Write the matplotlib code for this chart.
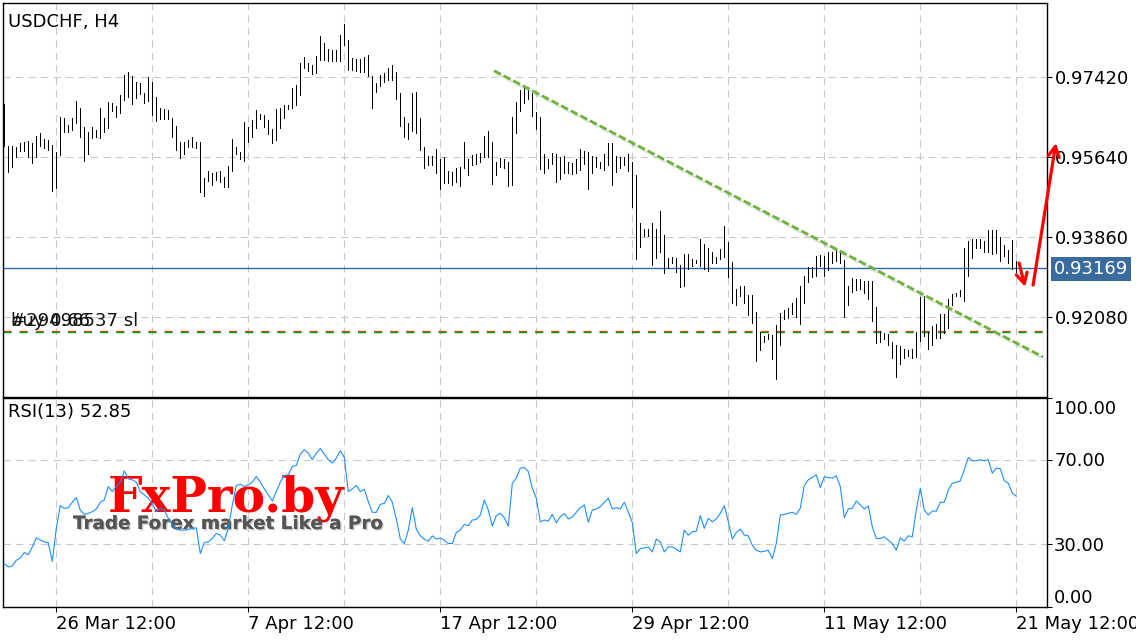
import matplotlib
matplotlib.use('Agg')
import matplotlib.pyplot as plt
import matplotlib.patheffects as pe
import numpy as np

plt.rcParams['font.family'] = ['DejaVu Sans']

# ---------------- data (H4 bars) ----------------
highs = [
 .9682,.9588,.9588,.9586,.9595,.9597,.9600,.9595,.9611,.9617,
 .9604,.9602,.9591,.9575,.9653,.9651,.9635,.9651,.9689,.9673,
 .9631,.9620,.9631,.9624,.9673,.9651,.9686,.9684,.9677,.9702,
 .9746,.9753,.9744,.9731,.9729,.9706,.9742,.9731,.9698,.9673,
 .9671,.9669,.9651,.9633,.9597,.9597,.9602,.9609,.9597,.9597,
 .9517,.9533,.9528,.9531,.9533,.9520,.9544,.9604,.9586,.9575,
 .9642,.9631,.9646,.9669,.9660,.9657,.9646,.9626,.9671,.9673,
 .9680,.9680,.9718,.9724,.9773,.9787,.9773,.9769,.9789,.9833,
 .9818,.9804,.9802,.9802,.9835,.9860,.9824,.9784,.9782,.9782,
 .9787,.9791,.9744,.9729,.9746,.9751,.9762,.9769,.9753,.9706,
 .9653,.9640,.9706,.9709,.9651,.9586,.9566,.9566,.9582,.9560,
 .9564,.9533,.9531,.9540,.9542,.9597,.9560,.9568,.9571,.9573,
 .9611,.9622,.9597,.9553,.9562,.9560,.9553,.9653,.9686,.9713,
 .9718,.9720,.9706,.9664,.9653,.9571,.9560,.9573,.9571,.9564,
 .9566,.9553,.9551,.9560,.9582,.9577,.9575,.9566,.9564,.9553,
 .9571,.9595,.9595,.9566,.9564,.9564,.9571,.9553,.9524,.9417,
 .9404,.9404,.9417,.9404,.9444,.9390,.9339,.9342,.9339,.9324,
 .9348,.9348,.9337,.9335,.9382,.9370,.9362,.9353,.9342,.9359,
 .9410,.9375,.9330,.9270,.9277,.9277,.9257,.9257,.9219,.9175,
 .9166,.9170,.9168,.9190,.9217,.9224,.9228,.9239,.9250,.9277,
 .9299,.9319,.9319,.9344,.9346,.9344,.9353,.9353,.9359,.9357,
 .9335,.9277,.9295,.9293,.9293,.9288,.9288,.9288,.9230,.9177,
 .9172,.9170,.9152,.9146,.9143,.9137,.9135,.9137,.9175,.9253,
 .9255,.9175,.9188,.9192,.9215,.9215,.9248,.9259,.9261,.9268,
 .9362,.9377,.9382,.9382,.9382,.9377,.9402,.9402,.9402,.9386,
 .9368,.9357,.9379,.9333]

lows = [
 .9588,.9531,.9542,.9564,.9577,.9577,.9564,.9551,.9564,.9588,
 .9584,.9580,.9488,.9495,.9568,.9620,.9620,.9624,.9640,.9609,
 .9555,.9571,.9606,.9609,.9606,.9620,.9629,.9666,.9653,.9662,
 .9691,.9698,.9682,.9695,.9704,.9684,.9689,.9657,.9644,.9649,
 .9649,.9649,.9609,.9580,.9562,.9571,.9586,.9586,.9584,.9486,
 .9477,.9511,.9502,.9513,.9508,.9497,.9497,.9533,.9571,.9560,
 .9555,.9597,.9609,.9629,.9649,.9631,.9615,.9595,.9602,.9629,
 .9651,.9671,.9673,.9680,.9702,.9762,.9755,.9749,.9751,.9780,
 .9780,.9778,.9778,.9778,.9778,.9813,.9758,.9758,.9755,.9753,
 .9753,.9744,.9673,.9709,.9722,.9731,.9735,.9735,.9693,.9633,
 .9609,.9604,.9622,.9617,.9580,.9540,.9546,.9546,.9528,.9493,
 .9506,.9506,.9502,.9508,.9499,.9540,.9524,.9546,.9548,.9553,
 .9564,.9564,.9504,.9524,.9542,.9540,.9499,.9502,.9617,.9666,
 .9684,.9693,.9655,.9626,.9537,.9528,.9540,.9548,.9508,.9515,
 .9528,.9528,.9526,.9528,.9535,.9548,.9493,.9528,.9542,.9540,
 .9535,.9546,.9502,.9531,.9540,.9546,.9533,.9453,.9337,.9364,
 .9388,.9388,.9324,.9339,.9353,.9306,.9317,.9328,.9308,.9275,
 .9277,.9315,.9321,.9328,.9321,.9315,.9310,.9328,.9328,.9337,
 .9342,.9297,.9239,.9235,.9255,.9239,.9212,.9195,.9110,.9135,
 .9152,.9159,.9115,.9070,.9146,.9204,.9206,.9215,.9208,.9192,
 .9239,.9286,.9297,.9299,.9321,.9299,.9313,.9328,.9333,.9328,
 .9208,.9235,.9264,.9268,.9270,.9261,.9248,.9199,.9150,.9152,
 .9159,.9146,.9117,.9075,.9103,.9117,.9121,.9117,.9119,.9155,
 .9166,.9137,.9146,.9161,.9161,.9172,.9184,.9235,.9255,.9255,
 .9244,.9299,.9339,.9362,.9362,.9353,.9353,.9348,.9350,.9333,
 .9344,.9328,.9315,.9308]

rsi = [
 20.7,19.1,19.6,22.3,23.4,26.0,25.0,28.7,33.0,32.0,
 31.1,30.6,21.8,37.5,48.4,47.1,47.4,50.0,52.2,46.3,
 44.2,44.7,45.5,46.8,50.0,51.1,57.5,55.1,57.5,59.6,
 65.0,61.2,60.7,59.6,55.1,53.5,51.9,49.5,45.5,47.1,
 46.3,42.3,39.1,37.5,36.7,36.7,37.0,37.5,37.8,25.5,
 30.8,31.1,32.7,35.1,34.3,31.6,37.5,48.7,58.0,58.6,
 57.5,58.3,59.6,62.3,59.6,56.4,53.5,50.6,55.1,59.6,
 62.8,63.1,67.1,67.6,73.0,75.0,73.5,70.3,73.5,75.6,
 73.0,70.3,68.7,71.1,74.6,71.4,55.1,56.4,58.0,55.1,
 56.2,50.3,45.2,45.2,49.0,49.5,53.2,50.0,42.0,32.4,
 30.3,36.7,47.4,37.2,34.0,32.4,31.4,34.0,32.4,33.0,
 31.8,30.3,30.3,35.6,36.7,39.4,38.8,41.5,41.8,43.9,
 51.1,46.3,38.6,43.6,44.7,42.6,38.6,59.1,61.5,66.3,
 66.6,64.7,56.7,51.9,40.7,41.5,41.0,44.2,40.2,43.1,
 44.6,42.0,43.0,45.2,47.4,48.7,40.4,46.3,46.8,47.9,
 50.0,51.9,46.8,47.4,46.8,50.0,45.2,40.4,25.5,27.9,
 28.2,28.7,26.3,32.4,31.1,26.3,28.7,28.7,27.6,26.3,
 36.7,34.3,35.9,36.2,43.6,37.5,42.3,40.7,42.0,44.7,
 48.4,40.7,32.4,35.6,37.2,34.3,34.0,29.5,27.1,26.3,
 26.6,27.1,23.1,30.3,43.9,44.2,44.7,45.2,44.2,47.1,
 58.0,60.7,61.8,63.1,57.0,62.2,61.8,61.5,62.6,57.5,
 42.6,46.8,47.1,50.6,48.7,46.8,48.2,38.3,32.7,32.7,
 33.5,31.9,30.3,27.1,33.0,31.4,34.0,33.5,46.3,56.7,
 46.3,43.9,45.8,45.8,50.0,50.0,55.9,59.1,59.6,60.2,
 65.5,71.4,69.8,69.8,70.3,69.8,70.3,63.9,66.3,66.0,
 60.2,59.1,54.3,52.85]

price_ticks = [0.97420, 0.95640, 0.93860, 0.92080]
rsi_levels = [100, 70, 30, 0]
date_labels = ['26 Mar 12:00', '7 Apr 12:00', '17 Apr 12:00',
               '29 Apr 12:00', '11 May 12:00', '21 May 12:00']
date_label_bars = [13, 61, 109, 157, 205, 253]
grid_bars = list(range(13, 254, 24))

current_price = 0.93169
sl_price = 0.9176
trend_x = [122.4, 259.7]
trend_y = [0.9756, 0.9119]
arrow_up = ((257.2, 0.9279), (262.9, 0.9595))
arrow_down = ((253.7, 0.9328), (255.2, 0.9275))

symbol_title = 'USDCHF, H4'
rsi_title = 'RSI(13) 52.85'

# ---------------- figure ----------------
W, H = 1136, 640
fig = plt.figure(figsize=(W / 100, H / 100), dpi=100)
fig.patch.set_facecolor('white')


def px_box(l, t, r, b):
    return [l / W, 1 - b / H, (r - l) / W, (b - t) / H]


ax = fig.add_axes(px_box(3, 3, 1047, 397))
ax2 = fig.add_axes(px_box(3, 397.5, 1047, 607))

idx = np.arange(len(highs))
xl = (-0.325, 260.675)
GRID = dict(color='#c8c8c8', lw=0.75, ls=(0, (7, 5)), zorder=0)
TXT = 13

for a in (ax, ax2):
    a.set_xlim(*xl)
    for s in a.spines.values():
        s.set_color('black')
        s.set_linewidth(1.0)
    for gx in grid_bars:
        a.axvline(gx, **GRID)

# ---- price panel ----
ax.set_ylim(0.90300, 0.99066)
for p in price_ticks:
    ax.axhline(p, **GRID)
ax.vlines(idx, lows, highs, color='black', lw=0.6, zorder=3, antialiased=False)

ax.axhline(current_price, color='#2d6aa3', lw=1.0, zorder=2)
ax.axhline(sl_price + 0.00011, color='#e0581c', lw=1.0, ls=(0, (5.8, 5.8)), zorder=2)
ax.axhline(sl_price - 0.00011, color='#118a11', lw=1.0, ls=(0, (5.8, 5.8)), zorder=2)

ax.plot(trend_x, trend_y, color='#6cb23c', lw=2.0, ls=(0, (2.8, 1.1)), zorder=4,
        solid_capstyle='butt', dash_capstyle='butt',
        path_effects=[pe.SimpleLineShadow(offset=(1.5, -2), shadow_color='#999999', alpha=0.25),
                      pe.Normal()])

ax.yaxis.tick_right()
ax.set_yticks(price_ticks)
ax.set_yticklabels(['%.5f' % p for p in price_ticks])
ax.tick_params(axis='y', direction='out', length=3.6, width=0.75, pad=2.0, labelsize=TXT)
ax.tick_params(axis='x', length=0, labelbottom=False)
ax.set_xticks([])

ax.annotate(symbol_title, xy=(0, 1), xycoords='axes fraction', xytext=(5, -24),
            textcoords='offset pixels', ha='left', va='baseline', fontsize=TXT)

for lab in ['buy 0.66', '#29498537 sl']:
    ax.annotate(lab, xy=(0, sl_price), xycoords=('axes fraction', 'data'), xytext=(8, 5),
                textcoords='offset pixels', ha='left', va='baseline', fontsize=TXT,
                color='#111111', zorder=5)

ax.annotate('%.5f' % current_price, xy=(1, current_price), xycoords=('axes fraction', 'data'),
            xytext=(7, -1), textcoords='offset pixels', ha='left', va='center',
            fontsize=TXT, color='white', annotation_clip=False,
            bbox=dict(boxstyle='square,pad=0.15', fc='#3a6b9f', ec='none'))

for (tail, head) in (arrow_up, arrow_down):
    ax.annotate('', xy=head, xytext=tail, xycoords='data', annotation_clip=False,
                arrowprops=dict(arrowstyle='->,head_length=0.75,head_width=0.4',
                                color='#ff0000', lw=2.3, shrinkA=0, shrinkB=0,
                                mutation_scale=10), zorder=6)

# ---- RSI panel ----
ax2.set_ylim(0, 100)
for lv in (70, 30):
    ax2.axhline(lv, **GRID)
ax2.plot(idx, rsi, color='#1e8fff', lw=0.8, zorder=3)

ax2.yaxis.tick_right()
ax2.set_yticks(rsi_levels)
ax2.set_yticklabels([])
ax2.tick_params(axis='y', direction='out', length=3.6, width=0.75)
offs = {100: -12, 70: -1, 30: -2, 0: 9}
for lv in rsi_levels:
    ax2.annotate('%.2f' % lv, xy=(1, lv), xycoords=('axes fraction', 'data'),
                 xytext=(7, offs[lv]), textcoords='offset pixels', ha='left',
                 va='center', fontsize=TXT, annotation_clip=False)

ax2.set_xticks(date_label_bars)
ax2.set_xticklabels(date_labels, ha='left')
ax2.tick_params(axis='x', direction='out', length=3.6, width=0.75, pad=2.5, labelsize=TXT)

ax2.annotate(rsi_title, xy=(0, 1), xycoords='axes fraction', xytext=(5, -19.5),
             textcoords='offset pixels', ha='left', va='baseline', fontsize=TXT)

# watermark
ax2.text(108 / W, 1 - 512 / H, 'FxPro.by', transform=fig.transFigure, fontsize=35,
         fontweight='bold', family='DejaVu Serif', color='#ff0000', va='baseline',
         ha='left', zorder=1)
ax2.text(73 / W, 1 - 529 / H, 'Trade Forex market Like a Pro', transform=fig.transFigure,
         fontsize=13.2, fontweight='bold', color='#555555', va='baseline', ha='left', zorder=1,
         path_effects=[pe.withSimplePatchShadow(offset=(1, -1), shadow_rgbFace='#bbbbbb', alpha=0.8),
                       pe.Normal()])

fig.savefig('out.png', dpi=100, facecolor='white')
